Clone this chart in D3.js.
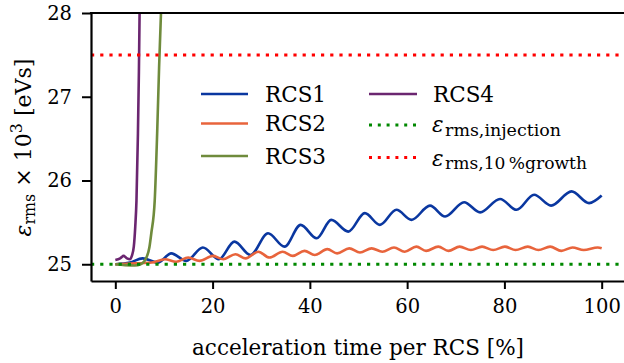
<!DOCTYPE html>
<html>
<head>
<meta charset="utf-8">
<script src="https://cdn.jsdelivr.net/npm/d3@7"></script>
<style>
  html, body { margin: 0; padding: 0; background: #fff; }
  svg text { font-family: "DejaVu Serif", "Liberation Serif", serif; fill: #000; }
</style>
</head>
<body>
<div id="wrapper"></div>
<script>
// tick labels
const xTicks = [0, 20, 40, 60, 80, 100]
const yTicks = [25, 26, 27, 28]

// RCS1 (peaks and troughs)
const rcs1X = [0, 3, 5.6, 8.8, 11.5, 14.6, 18.0, 21.3, 24.5, 27.8, 31.4, 34.8, 38.1, 41.4, 44.4, 47.9, 51.3, 54.4, 57.8, 60.9, 64.7, 67.8, 71.7, 75.0, 79.1, 82.5, 86.1, 89.6, 93.8, 97.4, 100]
const rcs1Y = [25.0, 25.02, 25.07, 25.02, 25.13, 25.04, 25.20, 25.06, 25.27, 25.11, 25.37, 25.21, 25.47, 25.31, 25.53, 25.39, 25.61, 25.47, 25.65, 25.53, 25.70, 25.57, 25.74, 25.62, 25.78, 25.65, 25.83, 25.70, 25.87, 25.73, 25.82]

// RCS2
const rcs2X = [0, 4, 7.5, 10.2, 12.5, 15.0, 17.3, 20.1, 22.2, 24.7, 26.8, 29.4, 31.7, 34.4, 36.5, 38.9, 41.0, 43.6, 45.6, 48.1, 50.3, 52.7, 54.9, 57.3, 59.5, 61.9, 63.9, 66.4, 68.5, 70.8, 73.1, 75.4, 77.7, 80.1, 82.3, 84.8, 87.0, 89.4, 91.7, 94.0, 96.3, 99.2, 100]
const rcs2Y = [25.0, 25.01, 25.02, 25.06, 25.03, 25.08, 25.04, 25.10, 25.06, 25.12, 25.07, 25.15, 25.08, 25.15, 25.10, 25.16, 25.11, 25.18, 25.13, 25.19, 25.14, 25.19, 25.15, 25.20, 25.15, 25.21, 25.16, 25.21, 25.16, 25.21, 25.17, 25.21, 25.17, 25.21, 25.17, 25.21, 25.17, 25.21, 25.16, 25.20, 25.17, 25.20, 25.19]

// RCS3
const rcs3X = [0, 2, 4, 5.2, 6.0, 6.4, 7.0, 7.4, 8.1, 8.6, 9.0, 9.45]
const rcs3Y = [25.0, 24.99, 24.985, 25.0, 25.04, 25.08, 25.2, 25.37, 25.76, 26.56, 27.35, 28.1]

// RCS4
const rcs4X = [0, 1, 1.7, 2.4, 3.0, 3.4, 3.8, 4.1, 4.35, 4.65, 4.85, 5.0]
const rcs4Y = [25.05, 25.07, 25.10, 25.07, 25.06, 25.1, 25.21, 25.45, 25.76, 26.56, 27.3, 28.05]

// reference levels
const injectionLevel = 25.0
const growthLevel = 27.5

const seriesNames = ["RCS1", "RCS2", "RCS3", "RCS4"]
const seriesColors = ["#0a37a0", "#e8643c", "#6f8b3c", "#6b2670"]

// shrink/grow a text element's font so it spans the wanted width
function fitWidth(sel, wanted) {
  const node = sel.node()
  const size = parseFloat(sel.attr("font-size"))
  const len = node.getComputedTextLength()
  if (len > 0) sel.attr("font-size", size * wanted / len)
}

function drawChart() {
  const width = 624
  const height = 363
  const margin = {left: 91, top: 13, bottom: 82}
  const serif = '"DejaVu Serif", "Liberation Serif", serif'

  // x runs from -5 to 105, the right spine falls just outside the picture
  const x = d3.scaleLinear().domain([-5, 105]).range([margin.left, 626])
  const y = d3.scaleLinear().domain([24.8, 28]).range([height - margin.bottom, margin.top])

  const svg = d3.select("#wrapper").append("svg")
    .attr("width", width)
    .attr("height", height)

  svg.append("defs").append("clipPath").attr("id", "plotClip")
    .append("rect")
      .attr("x", x(-5)).attr("y", y(28))
      .attr("width", x(105) - x(-5)).attr("height", y(24.8) - y(28))

  const plot = svg.append("g").attr("clip-path", "url(#plotClip)")

  const line = d3.line()
    .x(d => x(d[0]))
    .y(d => y(d[1]))
    .curve(d3.curveMonotoneX)

  const allSeries = [
    d3.zip(rcs1X, rcs1Y),
    d3.zip(rcs2X, rcs2Y),
    d3.zip(rcs3X, rcs3Y),
    d3.zip(rcs4X, rcs4Y)
  ]

  plot.selectAll(".series")
    .data(allSeries)
    .join("path")
      .attr("class", "series")
      .attr("d", line)
      .attr("fill", "none")
      .attr("stroke", (d, i) => seriesColors[i])
      .attr("stroke-width", 2.6)
      .attr("stroke-linejoin", "round")

  // dotted reference lines
  const refs = [
    {v: injectionLevel, color: "#008800"},
    {v: growthLevel, color: "#ff0000"}
  ]
  plot.selectAll(".ref")
    .data(refs)
    .join("line")
      .attr("class", "ref")
      .attr("x1", x(-5)).attr("x2", x(105))
      .attr("y1", d => y(d.v)).attr("y2", d => y(d.v))
      .attr("stroke", d => d.color)
      .attr("stroke-width", 3)
      .attr("stroke-dasharray", "3.2,6")

  // axes
  const xAxis = svg.append("g")
    .attr("transform", `translate(0,${y(24.8)})`)
    .call(d3.axisBottom(x).tickValues(xTicks).tickFormat(d3.format("d"))
      .tickSize(8).tickSizeOuter(0).tickPadding(10))
  const yAxis = svg.append("g")
    .attr("transform", `translate(${x(-5)},0)`)
    .call(d3.axisLeft(y).tickValues(yTicks).tickFormat(d3.format("d"))
      .tickSize(9).tickSizeOuter(0).tickPadding(10))

  for (const ax of [xAxis, yAxis]) {
    ax.attr("font-family", serif)
    ax.select(".domain").attr("stroke", "#000").attr("stroke-width", 2.2)
    ax.selectAll(".tick line").attr("stroke", "#000").attr("stroke-width", 2)
    ax.selectAll(".tick text").attr("font-size", 19.5)
  }

  // top spine
  svg.append("line")
    .attr("x1", x(-5) - 1.1).attr("x2", width)
    .attr("y1", y(28)).attr("y2", y(28))
    .attr("stroke", "#000").attr("stroke-width", 2.2)

  // axis labels
  svg.append("text")
    .attr("x", 358)
    .attr("y", 355)
    .attr("text-anchor", "middle")
    .attr("font-size", 21.5)
    .text("acceleration time per RCS [%]")

  const yLabel = svg.append("text")
    .attr("transform", "translate(31,147.5) rotate(-90)")
    .attr("text-anchor", "middle")
    .attr("font-size", 21)
  yLabel.append("tspan").attr("font-style", "italic").text("ε")
  yLabel.append("tspan").attr("font-size", "0.72em").attr("dy", 4).text("rms")
  yLabel.append("tspan").attr("dy", -4).text(" × 10")
  yLabel.append("tspan").attr("font-size", "0.72em").attr("dy", -9).text("3")
  yLabel.append("tspan").attr("dy", 9).text(" [eVs]")
  fitWidth(yLabel, 178)

  // legend
  const legend = svg.append("g")
  const rowY = [94, 125, 157.5]
  const col1 = {x1: 201, x2: 248, tx: 265}
  const col2 = {x1: 369, x2: 417, tx: 433}

  seriesNames.slice(0, 3).forEach((name, i) => {
    const ly = [94, 123.5, 156][i]
    legend.append("line")
      .attr("x1", col1.x1).attr("x2", col1.x2)
      .attr("y1", ly).attr("y2", ly)
      .attr("stroke", seriesColors[i]).attr("stroke-width", 2.6)
    legend.append("text")
      .attr("x", col1.tx).attr("y", ly + 7.8)
      .attr("font-size", 21.5)
      .text(name)
  })

  legend.append("line")
    .attr("x1", col2.x1).attr("x2", col2.x2)
    .attr("y1", rowY[0]).attr("y2", rowY[0])
    .attr("stroke", seriesColors[3]).attr("stroke-width", 2.6)
  legend.append("text")
    .attr("x", col2.tx).attr("y", rowY[0] + 7.8)
    .attr("font-size", 21.5)
    .text(seriesNames[3])

  const mathRows = [
    {row: 1, color: refs[0].color, sub: "rms,injection", base: 132, subW: 116},
    {row: 2, color: refs[1].color, sub: "rms,10\u2009%growth", base: 165.5, subW: 142}
  ]
  mathRows.forEach(m => {
    legend.append("line")
      .attr("x1", col2.x1).attr("x2", col2.x2)
      .attr("y1", rowY[m.row]).attr("y2", rowY[m.row])
      .attr("stroke", m.color).attr("stroke-width", 3)
      .attr("stroke-dasharray", "3,5.8")
    const t = legend.append("text")
      .attr("x", col2.tx - 1).attr("y", m.base)
      .attr("font-size", 21.5)
    t.append("tspan").attr("font-style", "italic").text("ε")
    const s = t.append("tspan").attr("font-size", 16).attr("dy", 3.5).attr("dx", 1.5)
      .text(m.sub)
    fitWidth(s, m.subW)
  })
}

window.onload = function () {
  drawChart()
}
</script>
</body>
</html>
